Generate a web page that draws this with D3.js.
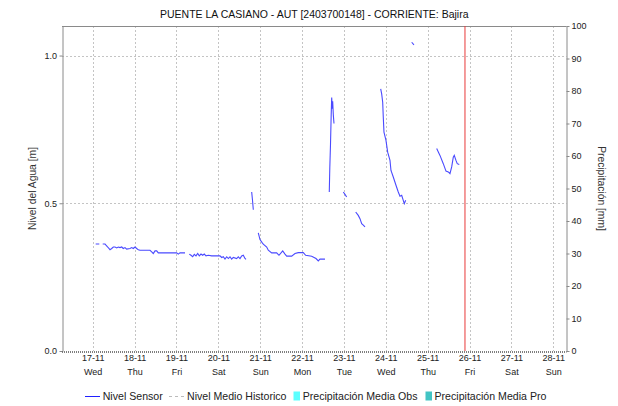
<!DOCTYPE html>
<html><head><meta charset="utf-8">
<script src="https://cdn.jsdelivr.net/npm/d3@7"></script>
<style>
html,body{margin:0;padding:0;background:#fff;}
svg{display:block;font-family:"Liberation Sans",Arial,sans-serif;}
</style></head>
<body>
<svg id="chart" width="618" height="406"></svg>
<script>
// ---------- DATA ----------
const chartTitle = "PUENTE LA CASIANO - AUT [2403700148] - CORRIENTE: Bajira";
const dayTicks = ["2021-11-17","2021-11-18","2021-11-19","2021-11-20","2021-11-21","2021-11-22","2021-11-23","2021-11-24","2021-11-25","2021-11-26","2021-11-27","2021-11-28"];
const dayLabels = ["17-11","18-11","19-11","20-11","21-11","22-11","23-11","24-11","25-11","26-11","27-11","28-11"];
const dayNames = ["Wed","Thu","Fri","Sat","Sun","Mon","Tue","Wed","Thu","Fri","Sat","Sun"];
const levelTicks = [0, 0.5, 1.0];
const precipTicks = [0,10,20,30,40,50,60,70,80,90,100];
const timeDomain = ["2021-11-16 06:24","2021-11-28 07:36"];
const nowMarker = "2021-11-25 21:24";
const legendLabels = ["Nivel Sensor","Nivel Medio Historico","Precipitación Media Obs","Precipitación Media Pro"];

// Nivel Sensor: times and levels (null = gap)
const sensorTimes = [
 "2021-11-17 01:43","2021-11-17 03:47",null,
 "2021-11-17 05:44","2021-11-17 07:03","2021-11-17 07:37","2021-11-17 08:36","2021-11-17 09:55","2021-11-17 10:53",
 "2021-11-17 11:49","2021-11-17 12:47","2021-11-17 13:45","2021-11-17 14:40","2021-11-17 15:39","2021-11-17 16:37",
 "2021-11-17 17:32","2021-11-17 18:31","2021-11-17 19:29","2021-11-17 21:23","2021-11-17 22:21","2021-11-17 23:16",
 "2021-11-18 00:15","2021-11-18 01:13","2021-11-18 02:08","2021-11-18 03:07","2021-11-18 05:00","2021-11-18 08:51",
 "2021-11-18 09:49","2021-11-18 10:44","2021-11-18 11:43","2021-11-18 12:41","2021-11-18 13:36","2021-11-18 14:35",
 "2021-11-18 18:25","2021-11-19 00:09","2021-11-19 01:04","2021-11-19 02:02","2021-11-19 04:55",null,
 "2021-11-19 07:22","2021-11-19 08:21","2021-11-19 09:19","2021-11-19 10:14","2021-11-19 11:13","2021-11-19 12:11",
 "2021-11-19 13:06","2021-11-19 14:05","2021-11-19 15:03","2021-11-19 15:58","2021-11-19 16:56","2021-11-19 18:16",
 "2021-11-19 20:13","2021-11-20 00:58","2021-11-20 01:56","2021-11-20 02:52","2021-11-20 03:50","2021-11-20 04:49",
 "2021-11-20 05:44","2021-11-20 06:42","2021-11-20 07:40","2021-11-20 08:35","2021-11-20 10:32","2021-11-20 11:28",
 "2021-11-20 12:26","2021-11-20 13:24","2021-11-20 14:19","2021-11-20 15:18","2021-11-20 15:52",null,
 "2021-11-20 19:08","2021-11-20 19:36","2021-11-20 20:04",null,
 "2021-11-20 22:55","2021-11-20 23:54","2021-11-21 01:13","2021-11-21 01:47","2021-11-21 03:44","2021-11-21 04:39",
 "2021-11-21 06:36","2021-11-21 09:28","2021-11-21 10:47","2021-11-21 12:55","2021-11-21 14:14","2021-11-21 15:12",
 "2021-11-21 18:04","2021-11-21 19:58","2021-11-21 21:51","2021-11-22 00:43","2021-11-22 02:05","2021-11-22 05:32",
 "2021-11-22 08:00","2021-11-22 09:19","2021-11-22 10:17","2021-11-22 13:09",null,
 "2021-11-22 15:37","2021-11-22 15:55","2021-11-22 16:19","2021-11-22 16:43","2021-11-22 17:00","2021-11-22 17:20",
 "2021-11-22 17:34","2021-11-22 17:55","2021-11-22 18:19",null,
 "2021-11-22 23:39","2021-11-23 00:37","2021-11-23 01:35",null,
 "2021-11-23 06:45","2021-11-23 08:14","2021-11-23 09:13","2021-11-23 10:11","2021-11-23 11:07","2021-11-23 12:05",null,
 "2021-11-23 21:05","2021-11-23 21:39","2021-11-23 22:14","2021-11-23 22:34","2021-11-23 22:58","2021-11-24 00:07",
 "2021-11-24 01:05","2021-11-24 02:25","2021-11-24 02:59","2021-11-24 04:18","2021-11-24 05:51","2021-11-24 07:10",
 "2021-11-24 08:08","2021-11-24 09:07","2021-11-24 10:02","2021-11-24 10:37","2021-11-24 11:25",null,
 "2021-11-24 14:51","2021-11-24 16:10",null,
 "2021-11-25 05:11","2021-11-25 07:04","2021-11-25 08:58","2021-11-25 10:31","2021-11-25 11:50","2021-11-25 12:48",
 "2021-11-25 13:47","2021-11-25 14:42","2021-11-25 15:16","2021-11-25 16:14","2021-11-25 16:59","2021-11-25 18:08"
];
const sensorLevels = [
 0.362,0.362,null,
 0.362,0.362,0.358,0.352,0.343,0.347,
 0.352,0.352,0.349,0.352,0.350,0.352,
 0.347,0.350,0.345,0.347,0.350,0.347,
 0.352,0.347,0.343,0.341,0.341,0.341,
 0.3355,0.330,0.339,0.339,0.332,0.332,
 0.332,0.332,0.328,0.332,0.332,null,
 0.328,0.324,0.319,0.327,0.322,0.330,
 0.322,0.328,0.324,0.328,0.322,0.324,
 0.322,0.322,0.3165,0.319,0.311,0.319,
 0.313,0.319,0.311,0.3165,0.313,0.319,
 0.313,0.322,0.324,0.313,0.310,null,
 0.538,0.510,0.478,null,
 0.400,0.377,0.366,0.3615,0.352,0.341,
 0.332,0.332,0.324,0.339,0.328,0.321,
 0.321,0.330,0.333,0.333,0.324,0.321,
 0.313,0.305,0.311,0.311,null,
 0.538,0.620,0.700,0.800,0.858,0.820,
 0.845,0.800,0.770,null,
 0.538,0.530,0.521,null,
 0.4706,0.459,0.448,0.431,0.426,0.420,null,
 0.887,0.870,0.842,0.792,0.741,0.713,
 0.673,0.645,0.611,0.589,0.561,0.538,
 0.524,0.527,0.510,0.499,0.510,null,
 1.045,1.036,null,
 0.685,0.662,0.634,0.609,0.606,0.600,
 0.623,0.656,0.662,0.645,0.634,0.631
];

// ---------- CHART ----------
const parse = d3.timeParse("%Y-%m-%d %H:%M");
const parseDay = d3.timeParse("%Y-%m-%d");
const svg = d3.select("#chart");
const W = 618, H = 406;
const L = 62, R = 566.5, T = 26, B = 351;

svg.append("rect").attr("width", W).attr("height", H).attr("fill", "#fff");

const x = d3.scaleTime().domain(timeDomain.map(parse)).range([L, R]);
const y = d3.scaleLinear().domain([0, 1.1]).range([B, T]);
const yR = d3.scaleLinear().domain([0, 100]).range([B, T]);

const gridColor = "#c4c4c4";
const axisColor = "#8a8a8a";
const textColor = "#222";

// Title
svg.append("text").attr("x", (L + R) / 2).attr("y", 18)
  .attr("text-anchor", "middle").attr("font-size", 10.5).attr("fill", "#111")
  .text(chartTitle);

// Grid lines
const days = dayTicks.map(parseDay);
svg.append("g").selectAll("line").data(days).join("line")
  .attr("x1", d => Math.round(x(d)) + 0.5).attr("x2", d => Math.round(x(d)) + 0.5)
  .attr("y1", T).attr("y2", B)
  .attr("stroke", gridColor).attr("stroke-dasharray", "2,2");
svg.append("g").selectAll("line").data(levelTicks.filter(v => v > 0)).join("line")
  .attr("x1", L).attr("x2", R)
  .attr("y1", d => Math.round(y(d)) + 0.5).attr("y2", d => Math.round(y(d)) + 0.5)
  .attr("stroke", gridColor).attr("stroke-dasharray", "2,2");

// Frame: top border
svg.append("line").attr("x1", L).attr("x2", R).attr("y1", T + 0.5).attr("y2", T + 0.5)
  .attr("stroke", axisColor);

// Left axis
const gL = svg.append("g").attr("transform", `translate(${L + 0.5},0)`)
  .call(d3.axisLeft(y).tickValues(levelTicks).tickFormat(d3.format(".1f")).tickSize(3).tickSizeOuter(0).tickPadding(2.5));
gL.select(".domain").attr("stroke", axisColor);
gL.selectAll(".tick line").attr("stroke", axisColor);
gL.selectAll(".tick text").attr("font-size", 9).attr("fill", textColor).attr("font-family", null);

// Right axis
const gR = svg.append("g").attr("transform", `translate(${R},0)`)
  .call(d3.axisRight(yR).tickValues(precipTicks).tickFormat(d3.format("d")).tickSize(3).tickSizeOuter(0).tickPadding(2));
gR.select(".domain").attr("stroke", axisColor);
gR.selectAll(".tick line").attr("stroke", axisColor);
gR.selectAll(".tick text").attr("font-size", 9).attr("fill", textColor).attr("font-family", null);

// Bottom axis (dotted line, labels on two lines)
svg.append("line").attr("x1", L).attr("x2", R).attr("y1", B + 1).attr("y2", B + 1)
  .attr("stroke", "#555").attr("stroke-width", 1.5).attr("stroke-dasharray", "1,1");
const gB = svg.append("g").attr("transform", `translate(0,${B})`)
  .call(d3.axisBottom(x).tickValues(days).tickSize(0).tickFormat(""));
gB.select(".domain").remove();
gB.selectAll(".tick text").remove();
gB.selectAll(".tick").each(function(d, i) {
  const t = d3.select(this).append("text").attr("text-anchor", "middle")
    .attr("font-size", 9).attr("fill", textColor);
  t.append("tspan").attr("x", 0).attr("y", 10).text(dayLabels[i]);
  t.append("tspan").attr("x", 0).attr("y", 24).text(dayNames[i]);
});

// Axis titles
svg.append("text").attr("transform", `translate(36,${(T + B) / 2}) rotate(-90)`)
  .attr("text-anchor", "middle").attr("font-size", 10.3).attr("fill", "#333")
  .text("Nivel del Agua [m]");
svg.append("text").attr("transform", `translate(598,${(T + B) / 2}) rotate(90)`)
  .attr("text-anchor", "middle").attr("font-size", 10.3).attr("fill", "#333")
  .text("Precipitación [mm]");

// Sensor line
const pts = sensorTimes.map((t, i) => ({ t: t ? parse(t) : null, v: sensorLevels[i] }));
const line = d3.line().defined(d => d.t !== null && d.v !== null)
  .x(d => x(d.t)).y(d => y(d.v));
svg.append("path").datum(pts).attr("d", line)
  .attr("fill", "none").attr("stroke", "#4a4aff").attr("stroke-width", 1.1);

// Now marker
svg.append("line").attr("x1", x(parse(nowMarker))).attr("x2", x(parse(nowMarker)))
  .attr("y1", T).attr("y2", B).attr("stroke", "#e83a3a").attr("stroke-width", 1);

// Legend
const lg = svg.append("g").attr("font-size", 10.6).attr("fill", textColor);
const ly = 396;
lg.append("line").attr("x1", 85).attr("x2", 100).attr("y1", ly + 0.5).attr("y2", ly + 0.5).attr("stroke", "#2020ff");
lg.append("text").attr("x", 102.7).attr("y", ly + 4).text(legendLabels[0]);
lg.append("line").attr("x1", 169).attr("x2", 184).attr("y1", ly + 0.5).attr("y2", ly + 0.5).attr("stroke", "#bbb").attr("stroke-dasharray", "3,3");
lg.append("text").attr("x", 187).attr("y", ly + 4).text(legendLabels[1]);
lg.append("rect").attr("x", 293.5).attr("y", 391.5).attr("width", 6.5).attr("height", 9).attr("fill", "#5cffff");
lg.append("text").attr("x", 302.7).attr("y", ly + 4).text(legendLabels[2]);
lg.append("rect").attr("x", 425.5).attr("y", 391.5).attr("width", 6.5).attr("height", 9).attr("fill", "#42c4c4");
lg.append("text").attr("x", 434.5).attr("y", ly + 4).text(legendLabels[3]);
</script>
</body></html>
